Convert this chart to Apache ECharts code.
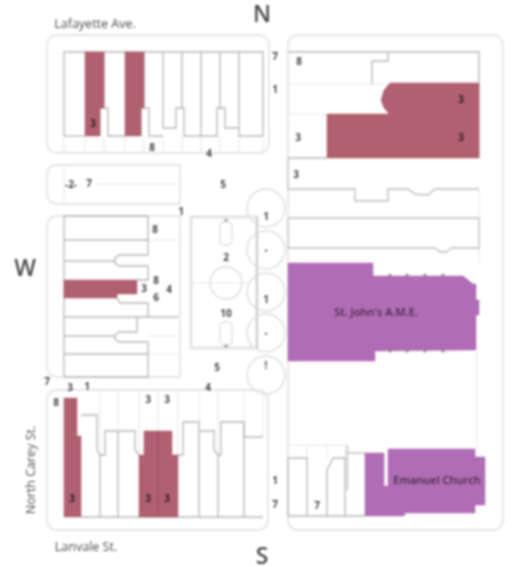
<!DOCTYPE html>
<html><head><meta charset="utf-8">
<style>html,body{margin:0;background:#fff}#c{width:513px;height:567px}#c canvas{filter:blur(.85px)}</style>
<script src="https://cdn.jsdelivr.net/npm/echarts@6/dist/echarts.min.js"></script>
</head><body><div id="c"></div>
<script>
// [x, y, w, h, radii]  map units
const blocks = [
 [47,35,222,118,10],[47,165,133,39,[10,0,0,10]],[47,216,133,161,[10,0,0,10]],[47,390,221,140,10],[288,35,215,495,10]
];
const churchShapes = [
 [[288,263],[373,263],[373,276],[463,276],[473,284],[476,284],[476,300],[479,300],[479,315],[476,315],[476,350],[375,351],[375,361],[288,361]],
 [[365,453],[384,453],[384,486],[388,486],[388,449],[475,449],[475,457],[485,457],[485,505],[475,505],[475,513],[405,513],[404,516],[365,516]]
];
const housingShapes = [
 [[85,52],[104,52],[104,108],[100,108],[100,136],[85,136]],
 [[125,52],[144,52],[144,108],[141,108],[141,136],[125,136]],
 [[64,280],[137,280],[137,294],[117,294],[117,298],[64,298]],
 [[64,398],[77,398],[77,436],[81,436],[81,517],[64,517]],
 [[139,517],[139,455],[144,455],[144,431],[172,431],[172,455],[178,455],[178,517]],
 [[390,83],[479,83],[479,114],[417,114],[390,115],[384,108],[381,100],[384,90]],
 [[327,114],[479,114],[479,158],[327,158]]
];
const lotLines = [
 [[64,136],[64,52],[263,52],[263,136]],
 [[64,136],[85,136]],[[104,52],[104,108]],[[100,136],[100,108],[108,108],[108,136],[125,136]],
 [[144,52],[144,108]],[[141,136],[141,108],[149,108],[149,136],[163,136]],
 [[163,52],[163,128],[176,128],[176,108],[184,108],[184,136],[217,136],[217,108],[225,108],[225,128],[239,128],[239,136],[263,136]],
 [[182,52],[182,108]],[[201,52],[201,136]],[[220,52],[220,108]],[[239,52],[239,128]],
 [[64,377],[64,216],[148,216],[148,255],[119,255],[115,258],[115,263],[119,266],[148,266],[148,280],[137,280]],
 [[64,240],[148,240]],[[64,261],[115,261]],[[117,298],[120,303],[148,303],[148,317]],
 [[64,317],[178,317]],[[137,317],[137,332],[119,332],[115,335],[115,339],[119,342],[148,342],[148,377],[64,377]],
 [[64,336],[115,336]],[[64,354],[148,354]],
 [[81,517],[263,517]],[[81,415],[97,415],[97,450],[100,455],[105,455],[105,431],[135,431],[135,450],[139,455]],
 [[100,455],[100,517]],[[118,431],[118,517]],[[178,455],[183,455],[183,422],[199,422],[199,431],[214,431],[214,450],[218,455],[221,455],[221,422],[244,422],[244,437],[263,437]],
 [[199,431],[199,517]],[[218,455],[218,517]],[[244,422],[244,517]],
 [[288,52],[479,52],[479,158]],[[388,52],[388,61],[372,61],[372,84]],[[327,158],[288,158]],
 [[288,516],[365,516]],[[288,516],[288,458],[307,458],[307,516]],[[327,516],[327,470],[333,458],[345,458],[345,516]],[[345,453],[365,453]]
];
const softLotLines = [
 [[288,158],[288,189],[355,189],[355,201],[388,201],[388,189],[408,189],[415,194],[428,195],[435,189],[479,189]],
 [[288,218],[479,218],[479,248],[452,248],[446,252],[440,252],[435,248],[288,248],[288,218]],
 [[257,217],[257,348]]
];
const faintLines = [
 [[64,136],[64,153]],[[85,136],[85,153]],[[104,136],[104,153]],[[125,136],[125,153]],[[144,136],[144,153]],[[163,136],[163,153]],[[182,136],[182,153]],[[201,136],[201,153]],[[220,136],[220,153]],[[239,136],[239,153]],[[263,136],[263,153]],
 [[95,184],[178,184]],[[64,165],[64,204]],[[148,240],[178,240]],[[148,336],[178,336]],[[148,354],[178,354]],[[148,216],[178,216]],
 [[100,390],[100,455]],[[118,390],[118,431]],[[139,390],[139,455]],[[158,390],[158,431]],[[178,390],[178,455]],[[199,390],[199,422]],[[218,390],[218,455]],[[244,390],[244,422]],[[263,390],[263,437]],
 [[288,84],[372,84]],[[288,114],[327,114]],[[372,84],[390,84]],[[288,52],[288,158]],
 [[479,189],[479,218]],[[479,248],[479,263]],[[477,351],[477,449]],
 [[288,445],[345,445]],[[307,445],[307,458]],[[327,445],[327,458]],[[288,445],[288,458]],
 [[191,283],[210,283]],[[242,283],[250,283]],[[210,283],[242,283]]
];
const parkFrame = [[191,217,66,131]];
const parkSoft = [[220,222,12,23,4],[220,322,12,23,4]];
const circles = [[266,208,19],[266,250,19],[266,292,19],[266,333,19],[266,375,19],[226,283,16]];
const thickBar = [[[347,445],[347,490]]];
const churchTicks = [[390,275],[407,275],[425,275],[443,275],[390,351],[407,351],[425,351],[443,351],[226,220],[226,346]];
// [x, y, text]
const smallLabels = [
 [275,57,'7'],[275,90,'1'],[152,148,'8'],[209,154,'4'],[71,185,'-2-'],[89,184,'7'],[223,185,'5'],[181,212,'1'],
 [155,230,'8'],[144,289,'3'],[156,281,'8'],[169,290,'4'],[156,298,'6'],[93,124,'3'],
 [226,258,'2'],[226,314,'10'],[217,368,'5'],[47,382,'7'],[70,388,'3'],[87,387,'1'],[56,403,'8'],[208,388,'4'],
 [148,400,'3'],[167,400,'3'],[72,499,'3'],[148,499,'3'],[167,499,'3'],[275,481,'1'],[275,505,'7'],
 [266,217,'1'],[266,250,'-'],[266,300,'1'],[266,333,'-'],[266,366,'!'],
 [299,62,'8'],[461,100,'3'],[461,138,'3'],[298,138,'3'],[296,175,'3'],[317,506,'7']
];
const streetLabels = [[95,24,'Lafayette Ave.'],[86,547,'Lanvale St.']];
const churchLabels = [[376,313,"St. John's A.M.E."],[437,481,'Emanuel Church']];
const compass = [[262,15,'N'],[262,557,'S'],[25,269,'W']];
const sideLabel = [[31,470,'North Carey St.']];

const FONT='"Open Sans",sans-serif';
function poly(shapes,fill){return {type:'custom',coordinateSystem:'cartesian2d',silent:true,data:shapes.map((_,i)=>[i]),
 renderItem:(p,api)=>({type:'polygon',shape:{points:shapes[api.value(0)].map(q=>api.coord(q))},style:{fill:fill,stroke:fill,lineWidth:.5}})};}
function lines(list,color,w){return {type:'custom',coordinateSystem:'cartesian2d',silent:true,data:list.map((_,i)=>[i]),
 renderItem:(p,api)=>({type:'polyline',shape:{points:list[api.value(0)].map(q=>api.coord(q))},style:{fill:'none',stroke:color,lineWidth:w}})};}
function rects(list,color,w){return {type:'custom',coordinateSystem:'cartesian2d',silent:true,data:list.map((_,i)=>[i]),
 renderItem:(p,api)=>{const b=list[api.value(0)],a=api.coord([b[0],b[1]]),s=api.size([b[2],b[3]]);
  return {type:'rect',shape:{x:a[0],y:a[1],width:s[0],height:s[1],r:b[4]||0},style:{fill:'none',stroke:color,lineWidth:w}};}};}
function rings(list,color,w){return {type:'custom',coordinateSystem:'cartesian2d',silent:true,data:list.map((_,i)=>[i]),
 renderItem:(p,api)=>{const b=list[api.value(0)],a=api.coord([b[0],b[1]]);
  return {type:'circle',shape:{cx:a[0],cy:a[1],r:api.size([b[2],0])[0]},style:{fill:'none',stroke:color,lineWidth:w}};}};}
function texts(list,size,weight,color,rotate){return {type:'scatter',silent:true,symbolSize:0,data:list.map(t=>({value:[t[0],t[1]],name:t[2]})),
 label:{show:true,position:'inside',formatter:'{b}',fontFamily:FONT,fontSize:size,fontWeight:weight,color:color,rotate:rotate||0},z:10};}

const chart=echarts.init(document.getElementById('c'));
chart.setOption({animation:false,backgroundColor:'#fff',
 grid:{left:0,right:0,top:0,bottom:0},
 xAxis:{type:'value',min:0,max:513,show:false},
 yAxis:{type:'value',min:0,max:567,inverse:true,show:false},
 series:[
  rects(blocks,'#e6e6e6',1.8),
  lines(faintLines,'#e8e8e8',1),
  rects(parkFrame,'#e4e4e4',3),
  rects(parkSoft,'#e0e0e0',1.4),
  rings(circles,'#e4e4e4',1.8),
  lines(softLotLines,'#cdcdcd',1.8),
  lines(lotLines,'#b6b6b6',1.3),
  lines(thickBar,'#d8d8d8',3),
  poly(housingShapes,'#b0606f'),
  poly(churchShapes,'#b06cb4'),
  lines([[[158,431],[158,517]]],'#8f4a58',.8),
  {type:'scatter',silent:true,symbolSize:3,itemStyle:{color:'#777'},data:churchTicks},
  texts(smallLabels,10,700,'#111'),
  texts(streetLabels,12.5,400,'#1c1c1c'),
  texts(churchLabels,11,600,'#2a1a2a'),
  texts(compass,23,600,'#1c1c1c'),
  texts(sideLabel,12.5,400,'#1c1c1c',90)
 ]});
</script></body></html>
